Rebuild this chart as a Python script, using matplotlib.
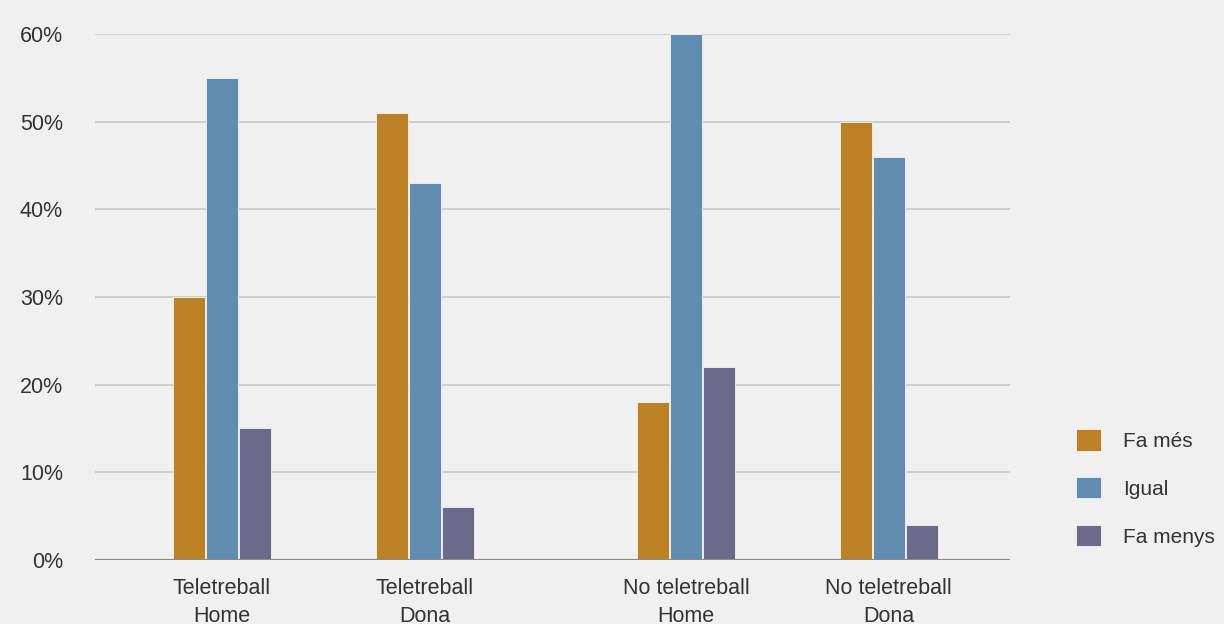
import matplotlib.pyplot as plt
import numpy as np

groups = ['Teletreball\nHome', 'Teletreball\nDona', 'No teletreball\nHome', 'No teletreball\nDona']
group_pos = [0, 1, 2.286, 3.286]
series = ['Fa més', 'Igual', 'Fa menys']
fa_mes = [30, 51, 18, 50]
igual = [55, 43, 60, 46]
fa_menys = [15, 6, 22, 4]
colors = ['#bd8125', '#608cb0', '#6b6a8a']
yticks = [0, 10, 20, 30, 40, 50, 60]

plt.rcParams['font.family'] = ['Liberation Sans', 'DejaVu Sans']

fig = plt.figure(figsize=(12.24, 6.24), dpi=100, facecolor='#f0f0f0')
ax = fig.add_axes([0.0776, 0.1026, 0.7474, 0.8429], facecolor='#f0f0f0')

x = np.array(group_pos)
width = 0.155
step = 0.163
for i, (name, vals) in enumerate(zip(series, [fa_mes, igual, fa_menys])):
    ax.bar(x + (i - 1) * step, vals, width, color=colors[i], label=name,
           edgecolor='#f4f4f4', linewidth=0.6, zorder=3)

ax.set_ylim(0, 60)
ax.set_xlim(-0.626, 3.882)
ax.set_yticks(yticks)
ax.set_yticklabels([f'{v}%' for v in yticks])
ax.set_xticks(x)
ax.set_xticklabels(groups)
ax.tick_params(length=0, labelsize=15.5, labelcolor='#333333')
ax.tick_params(axis='y', pad=23)
ax.tick_params(axis='x', pad=13)
for lbl in ax.get_xticklabels():
    lbl.set_linespacing(1.45)

for v in yticks[1:]:
    ax.axhline(v, color='#c8c8c5', linewidth=1.2, zorder=1)
ax.axhline(0, color='#8a8a8a', linewidth=1.6, zorder=4)

for s in ax.spines.values():
    s.set_visible(False)

leg = ax.legend(loc='center left', bbox_to_anchor=(1.061, 0.137), frameon=False,
                fontsize=15, handlelength=1.2, handleheight=1.2, borderpad=0,
                labelspacing=1.25, handletextpad=1.05, labelcolor='#333333')

fig.savefig('out.png', dpi=100, facecolor=fig.get_facecolor())
